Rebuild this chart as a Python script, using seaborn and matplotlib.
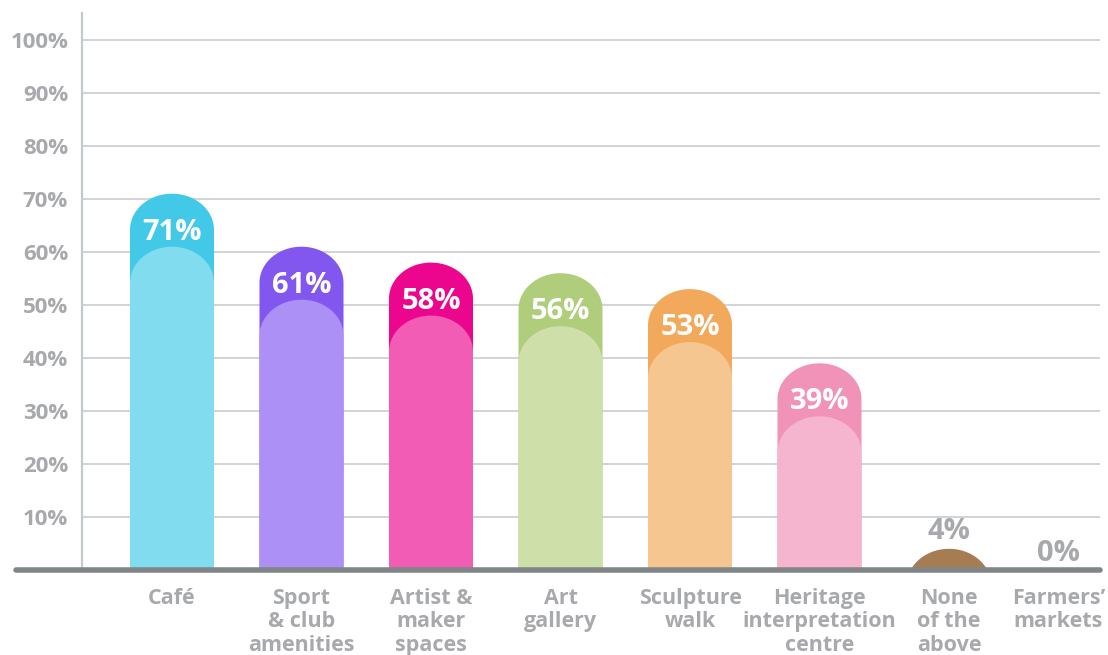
import numpy as np
import pandas as pd
import matplotlib
matplotlib.use("Agg")
import matplotlib.pyplot as plt
import matplotlib.transforms as mtransforms
from matplotlib.patches import Polygon, Rectangle
import seaborn as sns

categories = ["Café", "Sport\n& club\namenities", "Artist &\nmaker\nspaces", "Art\ngallery",
              "Sculpture\nwalk", "Heritage\ninterpretation\ncentre", "None\nof the\nabove",
              "Farmers’\nmarkets"]
values = [71, 61, 58, 56, 53, 39, 4, 0]
value_labels = ["71%", "61%", "58%", "56%", "53%", "39%", "4%", "0%"]
dark_colors = ["#41c9e7", "#8257ef", "#ec068d", "#afcd7b", "#f2a95b", "#f192b8", "#a67c52", "#a67c52"]
light_colors = ["#81dcf0", "#ad90f5", "#f35cb4", "#cfdfa9", "#f6c690", "#f5b5cf", "#cfb79d", "#cfb79d"]
y_ticks = [10, 20, 30, 40, 50, 60, 70, 80, 90, 100]
y_tick_labels = ["10%", "20%", "30%", "40%", "50%", "60%", "70%", "80%", "90%", "100%"]

sns.set_style("white")
plt.rcParams["font.family"] = ["Open Sans", "DejaVu Sans"]
plt.rcParams["font.weight"] = "bold"

GREY = "#a7a9ac"
fig = plt.figure(figsize=(11.08, 6.55), dpi=100)
ax = fig.add_axes([82 / 1108, 1 - 570 / 655, (1100 - 82) / 1108, (570 - 13) / 655])

BAR_W = 84 / 129.5
DOME = 6.8


def domify(ax, colors):
    rects = sorted([p for p in ax.patches if isinstance(p, Rectangle)], key=lambda p: p.get_x())
    for p, col in zip(rects, colors):
        x0, w, h = p.get_x(), p.get_width(), p.get_height()
        p.remove()
        if h <= 0:
            continue
        a = w / 2
        xc = x0 + a
        c = h - DOME
        t = np.linspace(0, np.pi, 80)
        xs = xc + a * np.cos(t)
        ys = np.maximum(c + DOME * np.sin(t), 0)
        pts = [(x0 + w, 0)] + list(zip(xs, ys)) + [(x0, 0)]
        ax.add_patch(Polygon(pts, closed=True, facecolor=col, edgecolor="none", zorder=3))


df = pd.DataFrame({"cat": categories, "value": values})
sns.barplot(data=df, x="cat", y="value", hue="cat", palette=dark_colors, width=BAR_W,
            legend=False, ax=ax, saturation=1)
domify(ax, dark_colors)
df_in = pd.DataFrame({"cat": categories, "value": [max(v - 10, 0) for v in values]})
sns.barplot(data=df_in, x="cat", y="value", hue="cat", palette=light_colors, width=BAR_W,
            legend=False, ax=ax, saturation=1)
domify(ax, light_colors)

ax.set_xlim((82 - 172) / 129.5, (1100 - 172) / 129.5)
ax.set_ylim(0, (570 - 13) / 5.3)

# grid
for yv in y_ticks:
    ax.axhline(yv, color="#c9cdd1", lw=1.2, zorder=1)

# value labels
for i, (v, lab) in enumerate(zip(values, value_labels)):
    if v >= 20:
        ax.text(i, v - 7.3, lab, ha="center", va="center", color="white",
                fontsize=21, fontweight="bold", zorder=5)
    else:
        xi = i if i < len(values) - 1 else i - 20 / 129.5
        ax.text(xi, v + 3.2, lab, ha="center", va="center", color=GREY,
                fontsize=21, fontweight="bold", zorder=5)

# baseline
ax.plot([(16 - 172) / 129.5, (1100 - 172) / 129.5], [0, 0], color="#808587", lw=4,
        solid_capstyle="round", clip_on=False, zorder=6)

for s in ["top", "right", "bottom"]:
    ax.spines[s].set_visible(False)
ax.spines["left"].set_color("#c4c9cd")
ax.spines["left"].set_linewidth(1.6)
ax.spines["left"].set_zorder(2)

ax.set_yticks(y_ticks)
ax.set_yticklabels(y_tick_labels, fontsize=16, fontweight="bold", color=GREY)
ax.tick_params(axis="y", length=0, pad=10)
ax.set_xticks(range(len(categories)))
ax.set_xticklabels(categories, fontsize=15.5, fontweight="bold", color=GREY, linespacing=1.15)
ax.tick_params(axis="x", length=0, pad=13)
lbls = ax.get_xticklabels()
lbls[-1].set_transform(lbls[-1].get_transform() + mtransforms.ScaledTranslation(-20 / 100, 0, fig.dpi_scale_trans))
ax.set_xlabel("")
ax.set_ylabel("")
ax.grid(False)

fig.savefig("out.png", dpi=100)
